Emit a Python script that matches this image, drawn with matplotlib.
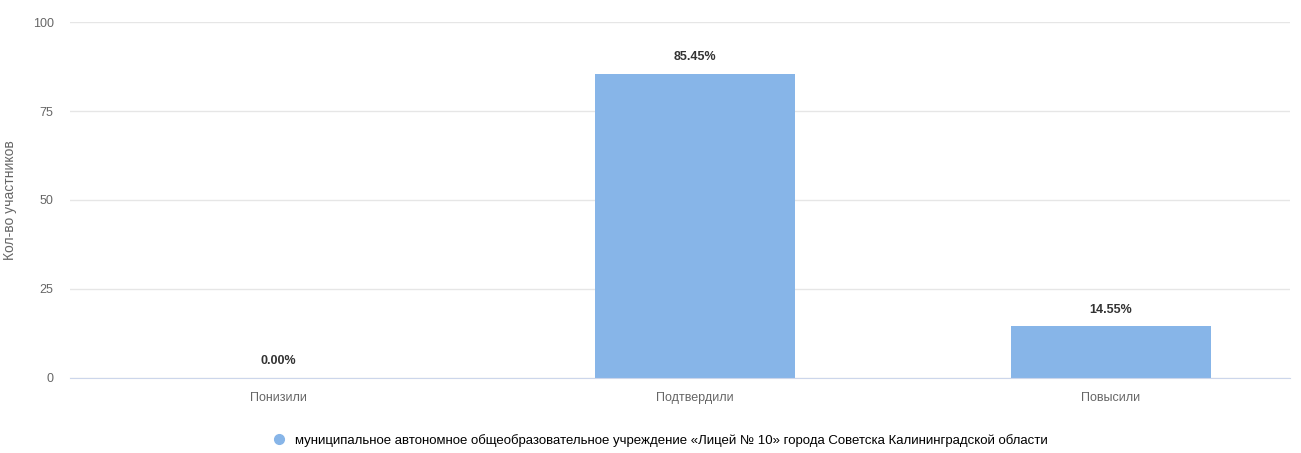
import numpy as np
import matplotlib.pyplot as plt
from matplotlib.lines import Line2D

categories = ["Понизили", "Подтвердили", "Повысили"]
values = [0.0, 85.45, 14.55]
labels = ["0.00%", "85.45%", "14.55%"]
series_name = "муниципальное автономное общеобразовательное учреждение «Лицей № 10» города Советска Калининградской области"

plt.rcParams['font.family'] = ['Liberation Sans', 'DejaVu Sans']

fig = plt.figure(figsize=(13.01, 4.53), dpi=100)
ax = fig.add_axes([0.054, 0.1656, 0.9375, 0.7858])

x = np.arange(len(categories))
bars = ax.bar(x, values, width=0.48, color='#87b5e8', zorder=3)
for b, lab in zip(bars, labels):
    ax.text(b.get_x() + b.get_width() / 2, b.get_height() + 3, lab,
            ha='center', va='bottom', fontsize=9, fontweight='bold', color='#333333')

ax.set_xlim(-0.5, 2.43)
ax.set_ylim(0, 100)
ax.set_yticks([0, 25, 50, 75, 100])
ax.set_xticks(x)
ax.set_xticklabels(categories)
ax.tick_params(axis='both', length=0, labelsize=9, colors='#666666')
ax.tick_params(axis='x', pad=10)
ax.tick_params(axis='y', pad=12)
ax.grid(axis='y', color='#e6e6e6', linewidth=1, zorder=0)
for s in ['top', 'right', 'left']:
    ax.spines[s].set_visible(False)
ax.spines['bottom'].set_color('#ccd6eb')
ax.spines['bottom'].set_zorder(4)
ax.set_ylabel("Кол-во участников", fontsize=10, color='#666666')
ax.yaxis.set_label_coords(-0.044, 0.5)

handle = Line2D([], [], marker='o', linestyle='none', markersize=7,
                markerfacecolor='#87b5e8', markeredgecolor='#87b5e8')
fig.legend([handle], [series_name], loc='center', bbox_to_anchor=(0.505, 0.028),
           frameon=False, handletextpad=0.2,
           prop={'family': ['Liberation Sans', 'DejaVu Sans'], 'size': 9.5})

fig.savefig('out.png', dpi=100, facecolor='white')
